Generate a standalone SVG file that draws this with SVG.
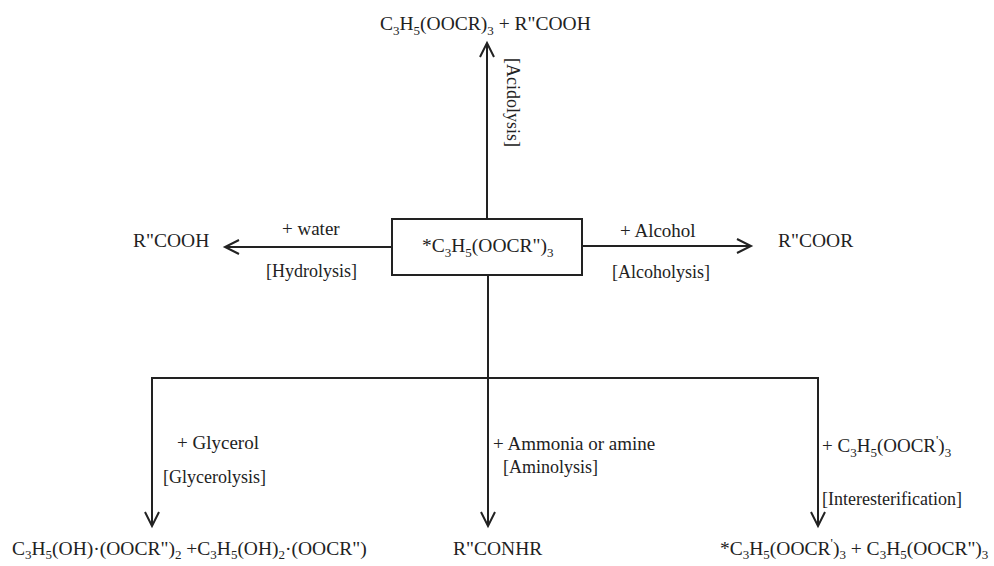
<svg xmlns="http://www.w3.org/2000/svg" width="994" height="566" viewBox="0 0 994 566">
<style>
text{font-family:"Liberation Serif","Times New Roman",serif;font-size:18px;fill:#222}
.f{font-size:19.5px}
.p{font-size:19px}
.sub{font-size:13px}
.ln{stroke:#222;stroke-width:2;fill:none}
.box{stroke:#222;stroke-width:2;fill:#fff}
</style>
<defs>
<marker id="ah" markerUnits="userSpaceOnUse" markerWidth="20" markerHeight="16" viewBox="-16 -8 20 16" refX="0" refY="0" orient="auto">
<path d="M-14,-7 L0,0 L-14,7" fill="none" stroke="#222" stroke-width="2"/>
</marker>
</defs>
<g id="connectors">
<line class="ln" x1="487" y1="219" x2="487" y2="43" marker-end="url(#ah)"/>
<line class="ln" x1="392" y1="247" x2="225" y2="247" marker-end="url(#ah)"/>
<line class="ln" x1="582" y1="246" x2="751" y2="246" marker-end="url(#ah)"/>
<line class="ln" x1="488" y1="275" x2="488" y2="526" marker-end="url(#ah)"/>
<polyline class="ln" points="152,526 152,378 818,378 818,526"/>
<line class="ln" x1="152" y1="500" x2="152" y2="526" marker-end="url(#ah)"/>
<line class="ln" x1="818" y1="500" x2="818" y2="526" marker-end="url(#ah)"/>
</g>
<g id="labels">
<text transform="translate(507,58) rotate(90)">[Acidolysis]</text>
<text class="p" x="282" y="235">+ water</text>
<text x="266" y="277">[Hydrolysis]</text>
<text class="p" x="620" y="237">+ Alcohol</text>
<text x="612" y="278">[Alcoholysis]</text>
<text class="p" x="177" y="449">+ Glycerol</text>
<text x="163" y="483">[Glycerolysis]</text>
<text class="p" x="493" y="450">+ Ammonia or amine</text>
<text x="503" y="473">[Aminolysis]</text>
<text class="p" x="822" y="452">+ C<tspan class="sub" dy="5">3</tspan><tspan dy="-5">H</tspan><tspan class="sub" dy="5">5</tspan><tspan dy="-5">(OOCR</tspan><tspan class="sub" dy="-8">'</tspan><tspan dy="8">)</tspan><tspan class="sub" dy="5">3</tspan></text>
<text x="822" y="505">[Interesterification]</text>
</g>
<g id="center">
<rect class="box" x="392" y="219" width="190" height="56"/>
<text class="f" x="422" y="252">*C<tspan class="sub" dy="5">3</tspan><tspan dy="-5">H</tspan><tspan class="sub" dy="5">5</tspan><tspan dy="-5">(OOCR")</tspan><tspan class="sub" dy="5">3</tspan></text>
</g>
<g id="acidolysis-product">
<text class="f" x="380" y="30">C<tspan class="sub" dy="5">3</tspan><tspan dy="-5">H</tspan><tspan class="sub" dy="5">5</tspan><tspan dy="-5">(OOCR)</tspan><tspan class="sub" dy="5">3</tspan><tspan dy="-5"> + R"COOH</tspan></text>
</g>
<g id="hydrolysis-product">
<text class="f" x="133" y="247">R"COOH</text>
</g>
<g id="alcoholysis-product">
<text class="f" x="778" y="247">R"COOR</text>
</g>
<g id="glycerolysis-product">
<text class="f" x="12" y="555">C<tspan class="sub" dy="4">3</tspan><tspan dy="-4">H</tspan><tspan class="sub" dy="4">5</tspan><tspan dy="-4">(OH)·(OOCR")</tspan><tspan class="sub" dy="4">2</tspan><tspan dy="-4"> +C</tspan><tspan class="sub" dy="4">3</tspan><tspan dy="-4">H</tspan><tspan class="sub" dy="4">5</tspan><tspan dy="-4">(OH)</tspan><tspan class="sub" dy="4">2</tspan><tspan dy="-4">·(OOCR")</tspan></text>
</g>
<g id="aminolysis-product">
<text class="f" x="453" y="555">R"CONHR</text>
</g>
<g id="interesterification-product">
<text class="f" x="720" y="555">*C<tspan class="sub" dy="4">3</tspan><tspan dy="-4">H</tspan><tspan class="sub" dy="4">5</tspan><tspan dy="-4">(OOCR</tspan><tspan class="sub" dy="-8">'</tspan><tspan dy="8">)</tspan><tspan class="sub" dy="4">3</tspan><tspan dy="-4"> + C</tspan><tspan class="sub" dy="4">3</tspan><tspan dy="-4">H</tspan><tspan class="sub" dy="4">5</tspan><tspan dy="-4">(OOCR")</tspan><tspan class="sub" dy="4">3</tspan></text>
</g>
</svg>
